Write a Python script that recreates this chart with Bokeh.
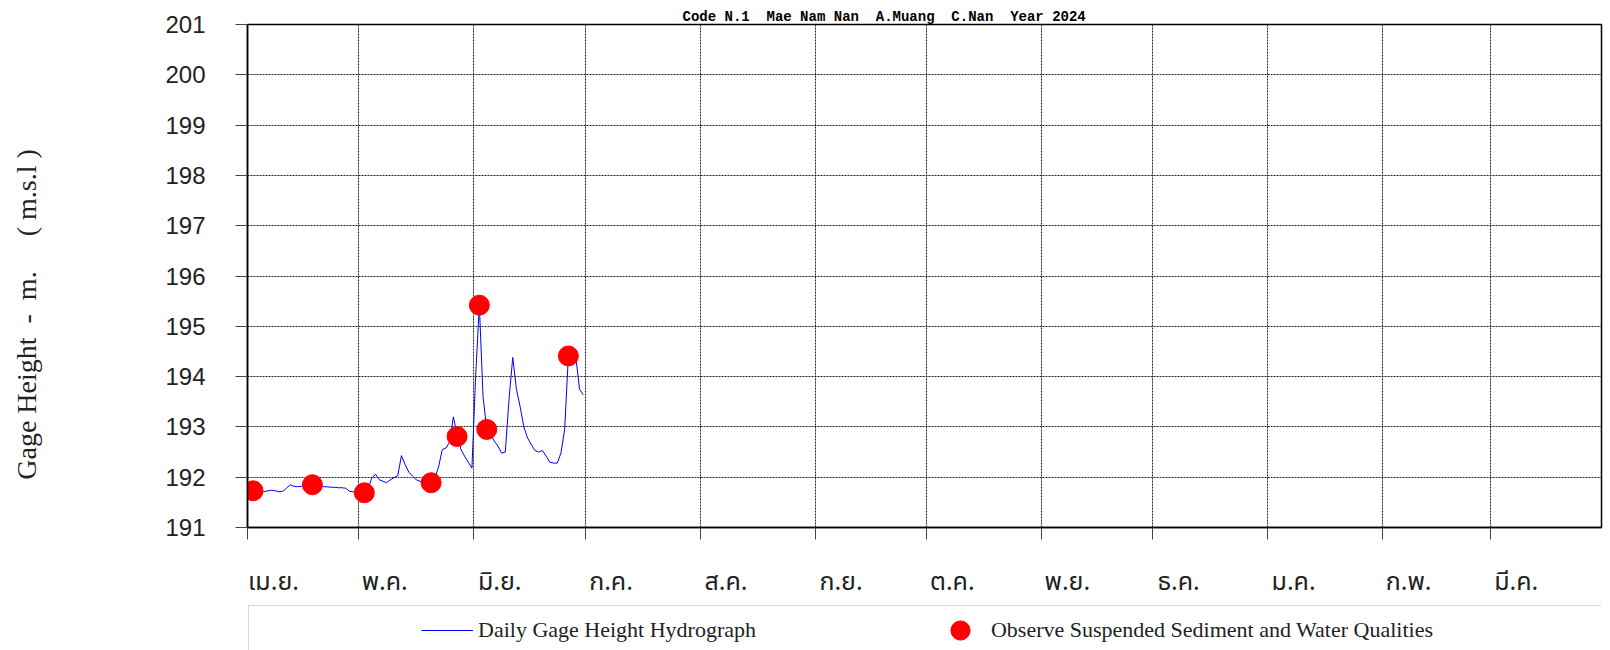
from bokeh.plotting import figure
from bokeh.layouts import column
from bokeh.models import (ColumnDataSource, Range1d, FixedTicker, LinearAxis,
                          Legend, LegendItem, BoxAnnotation)
from bokeh.embed import file_html
from bokeh.resources import INLINE

# ---------------- data ----------------
title_text = "Code N.1\u00a0 Mae Nam Nan\u00a0 A.Muang\u00a0 C.Nan\u00a0 Year 2024"
y_title = "Gage Height\u00a0\u00a0-\u00a0\u00a0m.\u00a0\u00a0\u00a0\u00a0\u00a0( m.s.l )"
month_labels = ["เม.ย.", "พ.ค.", "มิ.ย.", "ก.ค.", "ส.ค.", "ก.ย.",
                "ต.ค.", "พ.ย.", "ธ.ค.", "ม.ค.", "ก.พ.", "มี.ค."]
month_start = [0, 30, 61, 91, 122, 153, 183, 214, 244, 275, 306, 335]
year_days = 365
y_ticks = [191, 192, 193, 194, 195, 196, 197, 198, 199, 200, 201]

gage_day = list(range(1, 91))
gage_height = [
    191.73, 191.72, 191.71, 191.71, 191.73, 191.74, 191.73, 191.71, 191.72, 191.78,
    191.85, 191.82, 191.81, 191.82, 191.83, 191.84, 191.85, 191.84, 191.82, 191.81,
    191.81, 191.80, 191.80, 191.79, 191.79, 191.78, 191.72, 191.71, 191.71, 191.70,
    191.69, 191.78, 191.98, 192.06, 191.95, 191.92, 191.89, 191.95, 191.99, 192.03,
    192.43, 192.25, 192.10, 192.02, 191.95, 191.92, 191.90, 191.89, 191.89, 191.98,
    192.20, 192.55, 192.58, 192.70, 193.20, 192.85, 192.56, 192.42, 192.30, 192.18,
    194.00, 195.42, 193.60, 192.95, 192.85, 192.72, 192.62, 192.48, 192.50, 193.55,
    194.38, 193.75, 193.40, 193.00, 192.78, 192.65, 192.53, 192.50, 192.53, 192.42,
    192.30, 192.28, 192.28, 192.48, 192.95, 194.41, 194.42, 194.40, 193.75, 193.64,
]
sample_day = [1, 17, 31, 49, 56, 62, 64, 86]
sample_height = [191.73, 191.85, 191.69, 191.89, 192.81, 195.42, 192.95, 194.41]

# ---------------- main figure ----------------
p = figure(width=1610, height=604,
           x_range=Range1d(0, year_days), y_range=Range1d(191, 201),
           output_backend="svg", toolbar_location=None,
           min_border_left=247, min_border_right=9,
           min_border_top=24, min_border_bottom=77)
p.background_fill_color = "white"
p.border_fill_color = "white"
p.outline_line_color = "black"
p.outline_line_width = 1.5

p.title.text = title_text
p.title.text_font = "Liberation Mono"
p.title.text_font_style = "bold"
p.title.text_font_size = "14px"
p.title.text_color = "#000000"
p.title.align = "left"
p.title.offset = 435
p.title.standoff = 0

# x axis: month-start ticks (no labels)
xa = p.xaxis[0]
xa.ticker = FixedTicker(ticks=month_start)
xa.major_label_overrides = {m: "" for m in month_start}
xa.major_label_text_font_size = "1px"
xa.major_label_standoff = 0
xa.major_tick_out = 12
xa.major_tick_in = 0
xa.minor_tick_line_color = None
xa.axis_line_width = 1.5
xa.axis_line_color = "black"
xa.major_tick_line_color = "#444444"

ya = p.yaxis[0]
ya.ticker = FixedTicker(ticks=y_ticks)
ya.major_tick_out = 12
ya.major_tick_in = 0
ya.minor_tick_line_color = None
ya.axis_line_width = 1.5
ya.axis_line_color = "black"
ya.major_tick_line_color = "#444444"
ya.major_label_standoff = 30
ya.major_label_text_font = "Liberation Sans"
ya.major_label_text_font_size = "24px"
ya.major_label_text_color = "#222222"
ya.axis_label = y_title + "\u00a0" * 11
ya.axis_label_text_font = "Liberation Serif"
ya.axis_label_text_font_size = "28px"
ya.axis_label_text_font_style = "normal"
ya.axis_label_text_color = "#222222"
ya.axis_label_standoff = 120

p.grid.grid_line_color = "#222222"
p.grid.grid_line_dash = "2 1"
p.grid.grid_line_width = 1

# month names, left-aligned just after each month tick
month_label_pos = [m + 7 for m in month_start]
ma = LinearAxis(ticker=FixedTicker(ticks=month_label_pos),
                major_label_overrides=dict(zip(month_label_pos, month_labels)),
                major_tick_out=0, major_tick_in=0, minor_tick_line_color=None,
                major_tick_line_color=None, axis_line_color=None,
                major_label_standoff=23,
                major_label_text_font="Noto Sans Thai, Loma, Garuda, sans-serif",
                major_label_text_font_size="25px",
                major_label_text_color="#222222")
p.add_layout(ma, "below")

# ---------------- data renderers ----------------
src_line = ColumnDataSource(dict(x=[d + 0.5 for d in gage_day], y=gage_height))
p.line("x", "y", source=src_line, line_color="#0000ff", line_width=1)

src_pts = ColumnDataSource(dict(x=[d + 0.5 for d in sample_day], y=sample_height))
p.scatter("x", "y", source=src_pts, size=20, marker="circle",
          fill_color="#ff0000", line_color="#ff0000")

# ---------------- legend strip ----------------
p2 = figure(width=1610, height=46, x_axis_type=None, y_axis_type=None,
            x_range=Range1d(0, 1), y_range=Range1d(0, 1),
            output_backend="svg", toolbar_location=None, min_border=0)
p2.outline_line_color = None
p2.background_fill_color = "white"
p2.border_fill_color = "white"

# same series (outside this strip's ranges) so the legend samples their styles
lp = p2.line("x", "y", source=src_line, line_color="#0000ff", line_width=1)
sp = p2.scatter("x", "y", source=src_pts, size=20, marker="circle",
                fill_color="#ff0000", line_color="#ff0000")

p2.add_layout(BoxAnnotation(left=248, right=2400, top=1, bottom=400,
                            left_units="canvas", right_units="canvas",
                            top_units="canvas", bottom_units="canvas",
                            fill_alpha=0, line_color="#000000", line_dash="1 1",
                            line_width=1))

legend = Legend(items=[LegendItem(label="Daily Gage Height Hydrograph", renderers=[lp]),
                       LegendItem(label="Observe Suspended Sediment and Water Qualities",
                                  renderers=[sp])],
                orientation="horizontal", location=(174, -4),
                glyph_width=52, glyph_height=48, label_standoff=5, spacing=178,
                padding=0, margin=0, border_line_alpha=0, background_fill_alpha=0,
                label_text_font="Liberation Serif", label_text_font_size="22px",
                label_text_color="#222222")
p2.add_layout(legend, "center")

layout = column(p, p2, spacing=0)
open("out.html", "w").write(file_html(layout, INLINE))
